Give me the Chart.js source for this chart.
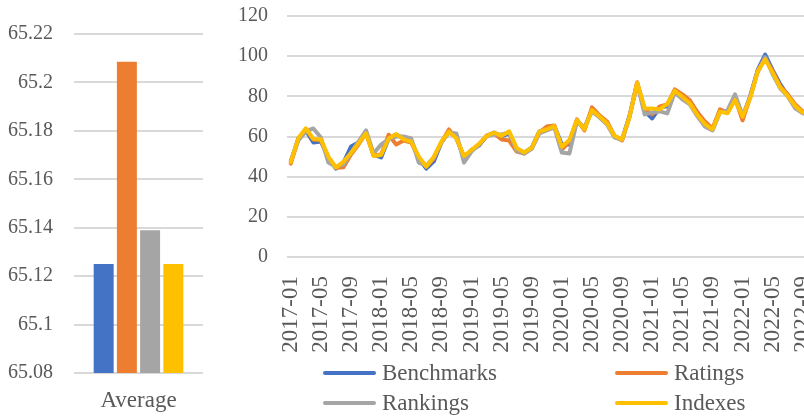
<!DOCTYPE html>
<html>
<head>
<meta charset="utf-8">
<script src="https://cdn.jsdelivr.net/npm/chart.js@4/dist/chart.umd.min.js"></script>
<style>
  html, body { margin: 0; padding: 0; background: #fff; overflow: hidden; }
  body { width: 804px; height: 417px; position: relative; }
  #avgChart { position: absolute; left: 0; top: 0; }
  #trendChart { position: absolute; left: 220px; top: 0; }
  .legend-item {
    position: absolute; height: 28px; line-height: 28px;
    font-family: 'Liberation Serif', 'Times New Roman', serif;
    font-size: 23px; color: #595959; white-space: nowrap;
  }
  .legend-item .swatch {
    position: absolute; left: 0; top: 12px; width: 53px; height: 4px; border-radius: 2px;
  }
  .legend-item .text { position: absolute; left: 59px; top: 0; }
</style>
</head>
<body>
<canvas id="avgChart" width="220" height="417"></canvas>
<canvas id="trendChart" width="637" height="417"></canvas>
<div id="legend"></div>

<script>
// 系列名称与配色
const SERIES_NAMES = ['Benchmarks', 'Ratings', 'Rankings', 'Indexes'];
const SERIES_COLORS = ['#4472C4', '#ED7D31', '#A5A5A5', '#FFC000'];

// 左侧柱状图：各系列平均值
const avgCategories = ['Average'];
const avgValues = [65.125, 65.2085, 65.139, 65.125];
const avgTicks = [65.08, 65.1, 65.12, 65.14, 65.16, 65.18, 65.2, 65.22];

// 右侧折线图：月度数据
const months = [
    '2017-01', '2017-02', '2017-03', '2017-04', '2017-05', '2017-06', '2017-07', '2017-08', '2017-09', '2017-10', '2017-11', '2017-12',
    '2018-01', '2018-02', '2018-03', '2018-04', '2018-05', '2018-06', '2018-07', '2018-08', '2018-09', '2018-10', '2018-11', '2018-12',
    '2019-01', '2019-02', '2019-03', '2019-04', '2019-05', '2019-06', '2019-07', '2019-08', '2019-09', '2019-10', '2019-11', '2019-12',
    '2020-01', '2020-02', '2020-03', '2020-04', '2020-05', '2020-06', '2020-07', '2020-08', '2020-09', '2020-10', '2020-11', '2020-12',
    '2021-01', '2021-02', '2021-03', '2021-04', '2021-05', '2021-06', '2021-07', '2021-08', '2021-09', '2021-10', '2021-11', '2021-12',
    '2022-01', '2022-02', '2022-03', '2022-04', '2022-05', '2022-06', '2022-07', '2022-08', '2022-09', '2022-10'
];

const benchmarks = [
    47.2, 59.1, 63.0, 57.0, 57.5, 49.5, 44.0, 47.0, 55.0, 57.0, 61.8, 51.0,
    49.6, 59.0, 61.0, 59.0, 58.0, 49.0, 44.0, 47.6, 57.0, 62.4, 59.5, 49.5,
    53.3, 55.5, 60.3, 62.0, 60.0, 61.5, 53.5, 52.0, 54.5, 62.4, 64.0, 65.2,
    56.0, 56.0, 68.0, 64.0, 73.5, 70.0, 67.0, 60.0, 58.6, 70.5, 86.5, 72.5,
    69.0, 74.5, 75.0, 83.0, 80.5, 77.0, 72.0, 66.5, 63.5, 73.0, 72.0, 79.5,
    69.5, 80.0, 93.0, 100.8, 93.0, 86.0, 80.5, 75.0, 72.0, 71.5
];

const ratings = [
    46.5, 58.5, 63.5, 58.5, 58.0, 49.5, 44.5, 44.7, 51.0, 56.0, 61.8, 50.5,
    51.0, 60.9, 56.0, 58.0, 57.0, 49.5, 45.0, 49.0, 57.0, 63.5, 59.0, 50.0,
    53.0, 56.0, 60.0, 61.5, 58.5, 58.0, 52.5, 51.5, 54.0, 62.0, 65.0, 65.5,
    53.5, 57.5, 68.5, 63.0, 74.5, 70.5, 67.5, 60.0, 58.0, 70.0, 87.0, 73.5,
    71.0, 75.0, 76.0, 83.5, 81.0, 78.0, 72.0, 67.5, 64.0, 73.5, 72.0, 79.0,
    68.0, 79.5, 92.5, 99.0, 92.5, 85.0, 81.0, 76.0, 72.5, 71.5
];

const rankings = [
    48.0, 58.0, 62.5, 64.0, 59.5, 47.0, 45.0, 46.0, 52.0, 57.5, 63.0, 51.5,
    56.0, 58.5, 60.0, 60.0, 59.0, 47.0, 45.5, 49.5, 57.0, 62.0, 61.5, 47.0,
    52.5, 56.0, 60.5, 61.0, 61.0, 62.0, 53.0, 51.5, 54.0, 61.5, 63.0, 64.5,
    52.0, 51.5, 67.5, 64.5, 72.5, 69.5, 66.0, 59.5, 58.5, 70.0, 86.5, 71.0,
    72.0, 72.5, 71.5, 82.0, 78.5, 76.0, 70.0, 65.0, 63.0, 72.0, 73.0, 81.0,
    70.5, 79.5, 92.0, 99.5, 91.0, 84.0, 80.0, 74.0, 71.5, 71.5
];

const indexes = [
    47.2, 59.1, 64.1, 58.8, 58.6, 50.0, 44.5, 47.5, 51.8, 56.6, 61.6, 50.3,
    50.8, 59.0, 61.2, 58.6, 57.4, 50.0, 45.0, 50.0, 57.4, 62.4, 59.1, 50.3,
    53.3, 56.3, 60.3, 61.9, 60.3, 62.6, 54.3, 52.1, 54.4, 62.4, 63.6, 65.2,
    54.9, 58.3, 68.2, 63.6, 73.2, 69.9, 66.6, 60.3, 58.6, 69.9, 86.8, 74.0,
    74.0, 73.5, 76.2, 82.8, 79.8, 76.5, 70.7, 66.2, 63.6, 72.4, 71.6, 78.2,
    69.9, 79.0, 92.3, 98.4, 91.8, 84.5, 80.2, 75.2, 71.9, 71.5
];

const trendTicks = [0, 20, 40, 60, 80, 100, 120];
const LABEL_STEP = 4;

const FONT_FAMILY = "'Liberation Serif', 'Times New Roman', serif";
const TEXT_COLOR = '#595959';
const GRID_COLOR = '#d9d9d9';

/**
 * 渲染平均值柱状图
 */
function renderAverageChart() {
    const ctx = document.getElementById('avgChart');
    return new Chart(ctx, {
        type: 'bar',
        data: {
            labels: avgCategories,
            datasets: SERIES_NAMES.map((name, i) => ({
                label: name,
                data: [avgValues[i]],
                backgroundColor: SERIES_COLORS[i],
                borderWidth: 0,
                categoryPercentage: 0.72,
                barPercentage: 0.86
            }))
        },
        options: {
            responsive: false,
            animation: false,
            layout: { padding: { left: 0, right: 17, top: 34, bottom: 0 } },
            plugins: {
                legend: { display: false },
                tooltip: { enabled: false }
            },
            scales: {
                x: {
                    grid: { display: false, drawTicks: false },
                    border: { display: false },
                    ticks: {
                        color: TEXT_COLOR,
                        padding: 14,
                        font: { family: FONT_FAMILY, size: 23 }
                    },
                    afterFit: (axis) => { axis.height = 44; }
                },
                y: {
                    min: avgTicks[0],
                    max: avgTicks[avgTicks.length - 1],
                    afterBuildTicks: (axis) => {
                        axis.ticks = avgTicks.map(v => ({ value: v }));
                    },
                    grid: { color: GRID_COLOR, lineWidth: 2, drawTicks: false },
                    border: { display: false },
                    ticks: {
                        color: TEXT_COLOR,
                        padding: 21,
                        font: { family: FONT_FAMILY, size: 20 },
                        callback: (v) => String(Number(v.toFixed(2)))
                    },
                    afterFit: (axis) => {
                        axis.width = 74;
                        axis.paddingTop = 0;
                    }
                }
            }
        }
    });
}

/**
 * 渲染月度趋势折线图
 */
function renderTrendChart() {
    const ctx = document.getElementById('trendChart');
    const seriesData = [benchmarks, ratings, rankings, indexes];
    return new Chart(ctx, {
        type: 'line',
        data: {
            labels: months,
            datasets: SERIES_NAMES.map((name, i) => ({
                label: name,
                data: seriesData[i],
                borderColor: SERIES_COLORS[i],
                backgroundColor: SERIES_COLORS[i],
                borderWidth: 4,
                pointRadius: 0,
                tension: 0,
                borderJoinStyle: 'round',
                borderCapStyle: 'round',
                order: SERIES_NAMES.length - i
            }))
        },
        options: {
            responsive: false,
            animation: false,
            layout: { padding: { left: 0, right: 8, top: 16, bottom: 0 } },
            plugins: {
                legend: { display: false },
                tooltip: { enabled: false }
            },
            scales: {
                x: {
                    offset: true,
                    grid: { display: false, drawTicks: false },
                    border: { display: false },
                    ticks: {
                        autoSkip: false,
                        minRotation: 90,
                        maxRotation: 90,
                        color: TEXT_COLOR,
                        padding: 19,
                        font: { family: FONT_FAMILY, size: 23 },
                        callback: function(value, index) {
                            return index % LABEL_STEP === 0 ? this.getLabelForValue(value) : '';
                        }
                    },
                    afterFit: (axis) => { axis.height = 160; }
                },
                y: {
                    min: trendTicks[0],
                    max: trendTicks[trendTicks.length - 1],
                    afterBuildTicks: (axis) => {
                        axis.ticks = trendTicks.map(v => ({ value: v }));
                    },
                    grid: { color: GRID_COLOR, lineWidth: 2, drawTicks: false },
                    border: { display: false },
                    ticks: {
                        color: TEXT_COLOR,
                        padding: 19,
                        font: { family: FONT_FAMILY, size: 20 }
                    },
                    afterFit: (axis) => {
                        axis.width = 67;
                        axis.paddingTop = 0;
                    }
                }
            }
        }
    });
}

/**
 * 两列图例
 */
function renderLegend() {
    const box = document.getElementById('legend');
    const cols = [323, 615];
    const rows = [359, 389];
    SERIES_NAMES.forEach((name, i) => {
        const item = document.createElement('div');
        item.className = 'legend-item';
        item.style.left = cols[i % 2] + 'px';
        item.style.top = rows[Math.floor(i / 2)] + 'px';
        item.innerHTML = '<span class="swatch" style="background:' + SERIES_COLORS[i] + '"></span>' +
            '<span class="text">' + name + '</span>';
        box.appendChild(item);
    });
}

renderAverageChart();
renderTrendChart();
renderLegend();
</script>
</body>
</html>
